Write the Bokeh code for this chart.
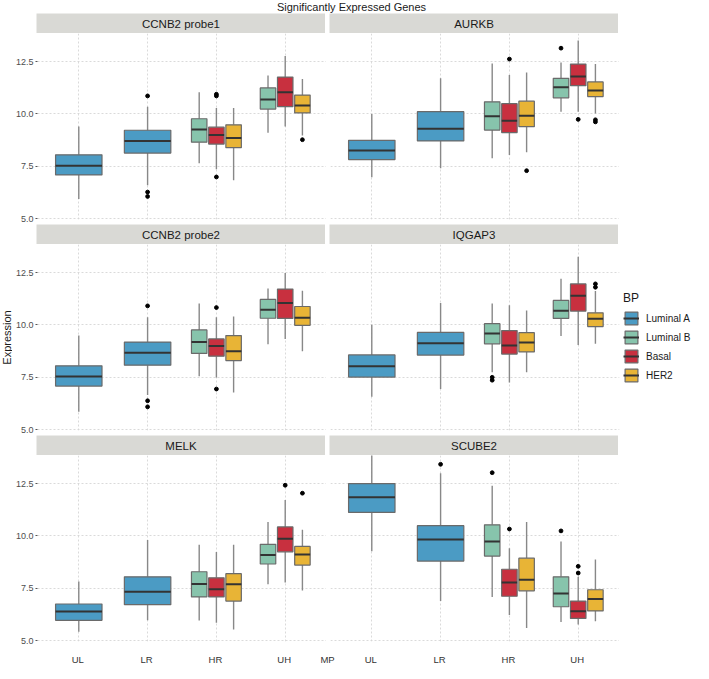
import math
from bokeh.plotting import figure
from bokeh.layouts import row, column
from bokeh.models import (ColumnDataSource, Range1d, FixedTicker, Label, Legend,
                          LegendItem, Grid, LinearAxis)
from bokeh.embed import file_html
from bokeh.resources import INLINE

# ------------------------------------------------------------------ data
MP_LEVELS = ["UL", "LR", "HR", "UH"]
BP_LEVELS = ["Luminal A", "Luminal B", "Basal", "HER2"]
BP_COLORS = ["#4b9bc4", "#87c4ac", "#c8303f", "#e8b436"]

# box groups (MP category, BP subtype) in drawing order
GROUP_MP = ["UL", "LR", "HR", "HR", "HR", "UH", "UH", "UH"]
GROUP_BP = ["Luminal A", "Luminal A", "Luminal B", "Basal", "HER2",
            "Luminal B", "Basal", "HER2"]

Y_TICKS = [5.0, 7.5, 10.0, 12.5]
Y_TICK_LABELS = ["5.0", "7.5", "10.0", "12.5"]
Y_LIMITS = (4.96, 13.84)
X_LIMITS = (0.4, 4.6)
X_TITLE = "MP"
Y_TITLE = "Expression"
TITLE = "Significantly Expressed Genes"
LEGEND_TITLE = "BP"

GENES = ["CCNB2 probe1", "AURKB", "CCNB2 probe2", "IQGAP3", "MELK", "SCUBE2"]

# (lower whisker, Q1, median, Q3, upper whisker) for each group
CCNB2_PROBE1 = [(5.94, 7.09, 7.53, 8.05, 9.40), (6.60, 8.13, 8.71, 9.22, 10.34),
                (7.64, 8.65, 9.26, 9.77, 11.04), (7.36, 8.56, 9.00, 9.37, 10.28),
                (6.83, 8.39, 8.85, 9.48, 10.28), (9.10, 10.23, 10.69, 11.24, 11.83),
                (9.40, 10.35, 11.04, 11.76, 12.76), (8.97, 10.05, 10.40, 10.90, 11.67)]
AURKB = [(6.98, 7.82, 8.25, 8.74, 10.00), (7.41, 8.71, 9.29, 10.11, 11.70),
         (7.88, 9.23, 9.89, 10.58, 12.41), (8.04, 9.11, 9.68, 10.49, 11.86),
         (8.17, 9.39, 9.91, 10.61, 11.98), (10.11, 10.77, 11.27, 11.70, 12.45),
         (10.11, 11.35, 11.79, 12.38, 13.51), (10.02, 10.83, 11.12, 11.53, 12.38)]
CCNB2_PROBE2 = [(5.85, 7.08, 7.54, 8.05, 9.49), (6.66, 8.08, 8.67, 9.18, 10.37),
                (7.55, 8.64, 9.18, 9.76, 11.02), (7.49, 8.51, 8.99, 9.33, 10.37),
                (6.77, 8.30, 8.74, 9.49, 10.40), (9.08, 10.32, 10.72, 11.22, 11.74),
                (9.33, 10.31, 11.05, 11.71, 12.48), (8.74, 9.98, 10.34, 10.88, 11.63)]
IQGAP3 = [(6.57, 7.51, 8.03, 8.57, 10.01), (6.94, 8.56, 9.12, 9.64, 11.05),
          (7.74, 9.10, 9.59, 10.06, 11.02), (7.25, 8.61, 9.02, 9.73, 10.94),
          (7.74, 8.71, 9.16, 9.63, 10.69), (9.47, 10.31, 10.68, 11.17, 12.21),
          (9.04, 10.66, 11.39, 11.96, 13.26), (9.10, 9.92, 10.29, 10.58, 11.62)]
MELK = [(5.42, 5.97, 6.39, 6.75, 7.83), (5.97, 6.72, 7.34, 8.05, 9.81),
        (5.96, 7.09, 7.71, 8.29, 9.58), (5.86, 7.09, 7.46, 8.00, 9.23),
        (5.53, 6.89, 7.69, 8.20, 9.58), (7.69, 8.66, 9.09, 9.60, 10.67),
        (7.78, 9.24, 9.86, 10.43, 11.72), (7.40, 8.61, 9.11, 9.50, 10.30)]
SCUBE2 = [(9.27, 11.12, 11.85, 12.50, 13.90), (6.89, 8.80, 9.83, 10.49, 12.99),
          (7.09, 9.04, 9.74, 10.53, 12.39), (6.23, 7.12, 7.78, 8.41, 9.41),
          (5.60, 7.38, 7.91, 8.94, 10.66), (5.89, 6.62, 7.25, 8.05, 9.74),
          (5.77, 6.06, 6.40, 6.89, 8.05), (5.93, 6.42, 6.99, 7.43, 8.87)]

# outliers: (group index, value)
CCNB2_PROBE1_OUT = [(1, 10.86), (1, 6.27), (1, 6.06), (3, 10.94), (3, 10.86),
                    (3, 6.99), (7, 8.77)]
AURKB_OUT = [(3, 12.62), (4, 7.29), (5, 13.14), (6, 9.74), (7, 9.72), (7, 9.62)]
CCNB2_PROBE2_OUT = [(1, 10.91), (1, 6.38), (1, 6.09), (3, 10.83), (3, 6.94)]
IQGAP3_OUT = [(2, 7.50), (2, 7.36), (7, 11.96), (7, 11.80)]
MELK_OUT = [(6, 12.42), (7, 12.04)]
SCUBE2_OUT = [(1, 13.42), (2, 13.02), (3, 10.33), (5, 10.24), (6, 8.55), (6, 8.23)]

GENE_STATS = [CCNB2_PROBE1, AURKB, CCNB2_PROBE2, IQGAP3, MELK, SCUBE2]
GENE_OUTLIERS = [CCNB2_PROBE1_OUT, AURKB_OUT, CCNB2_PROBE2_OUT, IQGAP3_OUT,
                 MELK_OUT, SCUBE2_OUT]

# ------------------------------------------------------------------ style / layout
FONT = "Liberation Sans"
FW, FH = 289, 186
STRIP_H = 20
LEFT_AX = 24
GAP = 4
ROW_GAP = 5
AXROW_H = 14
TITLE_H = 13
YLAB_W = 12
TOTAL_H = TITLE_H + 3 * STRIP_H + 3 * FH + 3 * ROW_GAP + 1 + AXROW_H
DODGE = 0.75
PAD = 0.1
GRID_COLOR = "#d6d6d6"


def group_geometry():
    xs, ws = [], []
    for i, mp in enumerate(GROUP_MP):
        members = [j for j, m in enumerate(GROUP_MP) if m == mp]
        n = len(members)
        k = members.index(i)
        slot = DODGE / n
        xs.append(MP_LEVELS.index(mp) + 1 + (k - (n - 1) / 2) * slot)
        ws.append(slot * (1 - PAD))
    return xs, ws


def blank_fig(**kw):
    f = figure(toolbar_location=None, output_backend="svg",
               x_axis_location=None, y_axis_location=None,
               x_range=kw.pop("x_range", Range1d(0, 1)), y_range=Range1d(0, 1),
               outline_line_color=None, border_fill_color="white", **kw)
    f.grid.visible = False
    return f


def strip(gene, left):
    s = blank_fig(frame_width=FW, frame_height=STRIP_H,
                  min_border_left=LEFT_AX if left else GAP, min_border_right=0,
                  min_border_top=0, min_border_bottom=0,
                  background_fill_color="#d9d9d5")
    s.add_layout(Label(x=0.5, y=0.5, text=gene, text_align="center",
                       text_baseline="middle", text_font=FONT,
                       text_font_size="11.5px", text_color="#1a1a1a"))
    return s


def panel(idx, left, legend=False):
    stats = GENE_STATS[idx]
    outs = GENE_OUTLIERS[idx]
    p = figure(frame_width=FW, frame_height=FH,
               x_range=Range1d(*X_LIMITS), y_range=Range1d(*Y_LIMITS),
               x_axis_location=None,
               y_axis_location="left" if left else None,
               toolbar_location=None, output_backend="svg",
               min_border_left=LEFT_AX if left else GAP, min_border_right=0,
               min_border_top=0, min_border_bottom=ROW_GAP,
               outline_line_color=None, background_fill_color="white",
               border_fill_color="white")
    p.grid.visible = False
    xg = Grid(dimension=0, ticker=FixedTicker(ticks=list(range(1, len(MP_LEVELS) + 1))),
              grid_line_color=GRID_COLOR, grid_line_dash="2 2", grid_line_width=0.9)
    yg = Grid(dimension=1, ticker=FixedTicker(ticks=Y_TICKS),
              grid_line_color=GRID_COLOR, grid_line_dash="2 2", grid_line_width=0.9)
    p.add_layout(xg, "center")
    p.add_layout(yg, "center")

    if left:
        ya = p.yaxis[0]
        ya.axis_line_color = None
        ya.major_tick_line_color = "#555555"
        ya.major_tick_out = 2
        ya.major_tick_in = 0
        ya.minor_tick_line_color = None
        ya.major_label_text_font = FONT
        ya.major_label_text_font_size = "9px"
        ya.major_label_standoff = 2
        ya.ticker = FixedTicker(ticks=Y_TICKS)
        ya.major_label_overrides = {t: l for t, l in zip(Y_TICKS, Y_TICK_LABELS)}
        ya.major_label_text_color = "#4d4d4d"

    xs, ws = group_geometry()
    colors = [BP_COLORS[BP_LEVELS.index(b)] for b in GROUP_BP]
    src = ColumnDataSource(dict(
        x=xs, w=ws,
        xl=[x - w / 2 for x, w in zip(xs, ws)],
        xr=[x + w / 2 for x, w in zip(xs, ws)],
        lo=[s[0] for s in stats], q1=[s[1] for s in stats],
        med=[s[2] for s in stats], q3=[s[3] for s in stats],
        hi=[s[4] for s in stats], color=colors))
    p.segment(x0="x", y0="lo", x1="x", y1="q1", source=src,
              line_color="#888888", line_width=1.4)
    p.segment(x0="x", y0="q3", x1="x", y1="hi", source=src,
              line_color="#888888", line_width=1.4)
    box_r = p.vbar(x="x", width="w", bottom="q1", top="q3", source=src,
                   fill_color="color", line_color="#6a6a6a", line_width=1.2)
    med_r = p.segment(x0="xl", y0="med", x1="xr", y1="med", source=src,
                      line_color="#333333", line_width=2)
    osrc = ColumnDataSource(dict(x=[xs[g] for g, _ in outs], y=[v for _, v in outs]))
    p.scatter(x="x", y="y", source=osrc, size=3.8, color="black")

    if legend:
        items = [LegendItem(label=bp, renderers=[box_r, med_r], index=GROUP_BP.index(bp))
                 for bp in BP_LEVELS]
        leg = Legend(items=items, title=LEGEND_TITLE, location="center_left",
                     title_text_font=FONT, title_text_font_size="12px",
                     title_text_font_style="normal", title_text_color="#1a1a1a",
                     title_standoff=5,
                     label_text_font=FONT, label_text_font_size="10px",
                     label_text_color="#1a1a1a", label_height=16, label_standoff=7,
                     glyph_width=16, glyph_height=16, spacing=3, padding=0,
                     margin=4, border_line_color=None, background_fill_alpha=0)
        p.add_layout(leg, "right")
    return p


def axis_row():
    # shared x axis under both bottom panels, on the same scale as the panels
    unit = (X_LIMITS[1] - X_LIMITS[0]) / FW
    span = (2 * FW + GAP) * unit
    offset = (FW + GAP) * unit
    ticks = [i + 1 for i in range(len(MP_LEVELS))] + \
            [i + 1 + offset for i in range(len(MP_LEVELS))] + [X_LIMITS[0] + span / 2]
    labels = MP_LEVELS + MP_LEVELS + [X_TITLE]
    a = blank_fig(frame_width=2 * FW + GAP, frame_height=1,
                  x_range=Range1d(X_LIMITS[0], X_LIMITS[0] + span),
                  min_border_left=LEFT_AX, min_border_right=0,
                  min_border_top=0, min_border_bottom=0)
    ax = LinearAxis(ticker=FixedTicker(ticks=ticks),
                    major_label_overrides={t: l for t, l in zip(ticks, labels)},
                    axis_line_color=None, major_tick_line_color=None,
                    minor_tick_line_color=None, major_label_standoff=0,
                    major_label_text_font=FONT, major_label_text_font_size="9.5px",
                    major_label_text_color="#333333")
    a.add_layout(ax, "below")
    return a


title_fig = blank_fig(width=LEFT_AX + 2 * FW + GAP, height=TITLE_H, min_border=0)
title_fig.add_layout(Label(x=LEFT_AX + (2 * FW + GAP) / 2, y=TITLE_H / 2,
                           x_units="screen", y_units="screen",
                           text=TITLE, text_align="center",
                           text_baseline="middle", text_font=FONT,
                           text_font_size="11px", text_color="#1a1a1a"))

ylab_fig = blank_fig(width=YLAB_W, height=TOTAL_H, min_border=0)
ylab_fig.add_layout(Label(x=YLAB_W / 2,
                          y=TOTAL_H - (TITLE_H + 2 * STRIP_H + FH + ROW_GAP + FH / 2),
                          x_units="screen", y_units="screen", angle=math.pi / 2,
                          text=Y_TITLE, text_align="center", text_baseline="middle",
                          text_font=FONT, text_font_size="11px", text_color="#1a1a1a"))

grid = column(
    title_fig,
    row(strip(GENES[0], True), strip(GENES[1], False)),
    row(panel(0, True), panel(1, False)),
    row(strip(GENES[2], True), strip(GENES[3], False)),
    row(panel(2, True), panel(3, False, legend=True)),
    row(strip(GENES[4], True), strip(GENES[5], False)),
    row(panel(4, True), panel(5, False)),
    axis_row(),
)
layout = row(ylab_fig, grid)

open("out.html", "w").write(file_html(layout, INLINE))
